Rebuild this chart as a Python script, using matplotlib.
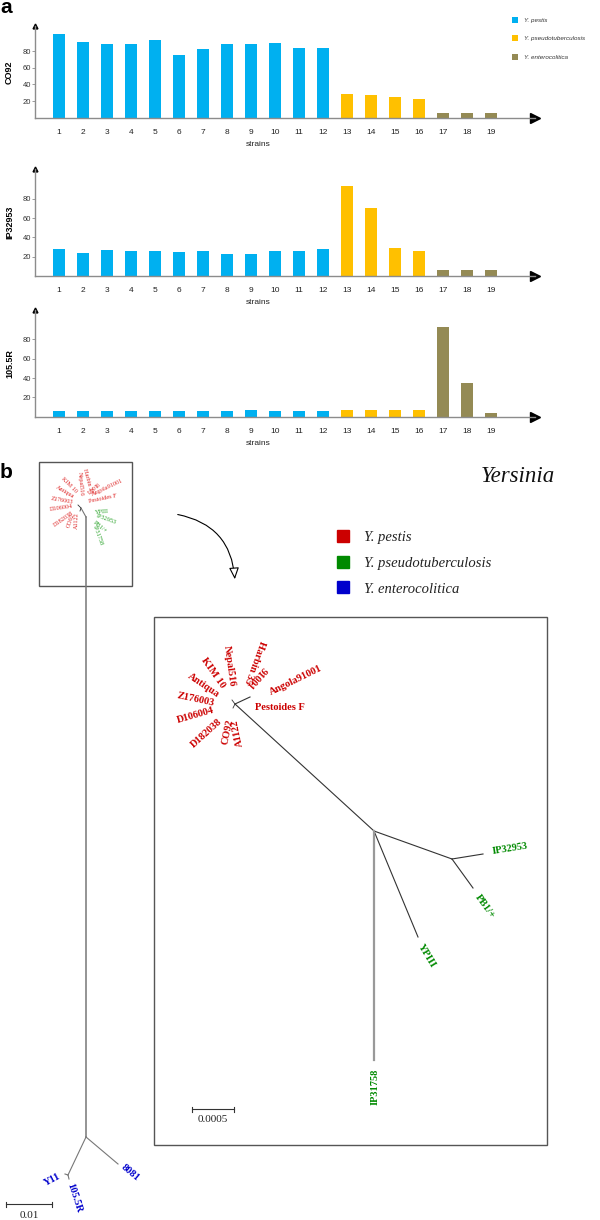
import matplotlib.pyplot as plt
from matplotlib.patches import Rectangle
from matplotlib.lines import Line2D

plt.rcParams['font.family'] = ['Liberation Sans', 'DejaVu Sans']
SERIF = ['Liberation Serif', 'DejaVu Serif']

# ---- panel a data ----
strains = list(range(1, 20))
species = ['Y. pestis', 'Y. pseudotuberculosis', 'Y. enterocolitica']
group_of = [0] * 12 + [1] * 4 + [2] * 3
bar_colors = ['#00b0f0', '#ffc000', '#948a54']

co92 = [101, 91, 88, 89, 93, 75, 82, 89, 88, 90, 84, 84, 28, 27.5, 25, 22, 5.5, 5.5, 5.5]
ip32953 = [28, 24, 27, 26, 26, 24.5, 25.5, 23, 22.5, 26, 26, 28, 93, 70.5, 28.5, 25.5, 6, 6, 6]
r1055 = [5.5, 5.5, 5.5, 5.5, 5.5, 5.5, 5.5, 5.5, 6.5, 5.5, 5.5, 5.5, 6.5, 6.5, 6.5, 6.5, 93, 34.5, 4]
probes = ['CO92', 'IP32953', '105.5R']
probe_values = [co92, ip32953, r1055]

# ---- panel b data (tree layout, drawing units) ----
outer_nodes = {'top': (86, 517), 'pest': (81, 508), 'ent': (86, 1137),
               '8081': (118, 1164), 'ynode': (68, 1175), 'Y11': (65, 1174), '105.5R': (69, 1179)}
outer_edges = [('top', 'pest'), ('top', 'ent'), ('ent', '8081'), ('ent', 'ynode'),
               ('ynode', 'Y11'), ('ynode', '105.5R')]
inner_nodes = {'pestis': (235, 704), 'pf': (250, 697), 'root': (374, 831), 'psa': (452, 859),
               'IP32953': (483, 854), 'PB1/+': (473, 888), 'YPIII': (418, 937), 'IP31758': (374, 1060)}
inner_edges = [('pestis', 'pf'), ('pestis', 'root'), ('root', 'psa'), ('psa', 'IP32953'),
               ('psa', 'PB1/+'), ('root', 'YPIII'), ('root', 'IP31758')]

pestis_big = [('Harbin 35', 255, 662, -110), ('Nepal516', 229, 666, -82), ('91001', 256, 677, -132),
              ('KIM 10', 213, 673, -55), ('Antiqua', 203, 685, -34), ('Z176003', 196, 700, -12),
              ('D106004', 196, 715, 16), ('D182038', 207, 733, 42), ('CO92', 228, 732, 78),
              ('A1122', 238, 733, 102), ('Angola91001', 296, 680, 26), ('Pestoides F', 280, 708, 0)]
pseudo_big = [('IP32953', 510, 849, 9), ('PB1/+', 485, 907, -54), ('YPIII', 427, 956, -59),
              ('IP31758', 375, 1087, 90)]
entero = [('8081', 130, 1173, -40), ('Y11', 52, 1180, 28), ('105.5R', 74, 1198, -72)]

pestis_small = [('Harbin 35', 88, 481, -75), ('Nepal516', 80.5, 484, -85), ('91001', 92, 487, -140),
                ('Angola91001', 107, 487, 25), ('Pestoides F', 103, 499, 12), ('KIM 10', 69, 485, -45),
                ('Antiqua', 65, 492, -30), ('Z176003', 62, 500, -10), ('D106004', 61, 508, 8),
                ('D182038', 63, 519, 35), ('CO92', 71, 520, 70), ('A1122', 77, 521, 88)]
pseudo_small = [('YPIII', 102, 512, 5), ('IP32953', 106, 519, -20), ('PB1/+', 100, 527, -40),
                ('IP31758', 98, 535, -70)]

tree_species = ['Y. pestis', 'Y. pseudotuberculosis', 'Y. enterocolitica']
tree_colors = ['#cc0000', '#008a00', '#0000cc']
outer_px_per_unit = 46 / 0.01
inner_px_per_unit = 42 / 0.0005

W, H = 600, 1220
fig = plt.figure(figsize=(W / 100, H / 100), dpi=100)

# baseline px, top px, px per unit
frames = [(117.7, 26, 0.833), (276, 169, 0.965), (416.7, 310, 0.967)]
for i, (name, vals, (base, top, scale)) in enumerate(zip(probes, probe_values, frames)):
    ax = fig.add_axes([35 / W, 1 - base / H, 500 / W, (base - top) / H])
    for g in range(3):
        xs = [s for s, gg in zip(strains, group_of) if gg == g]
        ys = [v for v, gg in zip(vals, group_of) if gg == g]
        ax.bar(xs, ys, width=0.5, color=bar_colors[g], label=species[g])
    ax.set_xlim(0.02, 20.83)
    ax.set_ylim(0, (base - top) / scale)
    for s in ['top', 'right']:
        ax.spines[s].set_visible(False)
    for s in ['left', 'bottom']:
        ax.spines[s].set_color('#8c8c8c')
        ax.spines[s].set_linewidth(1)
    ax.plot(1, 0, '>', color='black', ms=6.5, transform=ax.get_yaxis_transform(), clip_on=False)
    ax.plot(0, 1, '^', color='black', ms=3.5, transform=ax.get_xaxis_transform(), clip_on=False)
    ax.set_yticks([20, 40, 60, 80])
    ax.tick_params(axis='y', length=2, width=0.6, color='#8c8c8c', labelsize=5.5, pad=1,
                   labelcolor='#333333')
    ax.set_xticks(strains)
    ax.tick_params(axis='x', length=0, labelsize=6, pad=8, labelcolor='#222222')
    ax.set_ylabel(name, fontsize=6.5, fontweight='bold')
    ax.yaxis.set_label_coords(-0.042, 0.5)
    # "strains" sits left of the axis centre, ~27 px under the baseline
    ax.text(9.3, -27 / ((base - top)), 'strains', fontsize=6,
            transform=ax.get_xaxis_transform(), ha='center', va='center', color='#222222')
    ax.patch.set_alpha(0)
    if i == 0:
        leg = ax.legend(loc='upper left', bbox_to_anchor=(506 / W, 1 - 11 / H),
                        bbox_transform=fig.transFigure, frameon=False, fontsize=4.5,
                        handlelength=1.0, handleheight=1.1, handletextpad=0.9, labelspacing=2.0)
        for t in leg.get_texts():
            t.set_fontstyle('italic')
            t.set_color('#333333')

# ---- panel b ----
axb = fig.add_axes([0, 0, 1, 1])
axb.set_xlim(0, W)
axb.set_ylim(H, 0)
axb.axis('off')
axb.patch.set_alpha(0)

fig.text(6 / W, 1 - 13 / H, 'a', fontsize=15, fontweight='bold', ha='center', va='baseline')
fig.text(6 / W, 1 - 478 / H, 'b', fontsize=15, fontweight='bold', ha='center', va='baseline')

axb.add_patch(Rectangle((39, 462), 93, 124, fill=False, ec='#555555', lw=1))
axb.add_patch(Rectangle((154, 617), 393, 528, fill=False, ec='#555555', lw=1))

for a, b in outer_edges:
    (x0, y0), (x1, y1) = outer_nodes[a], outer_nodes[b]
    axb.plot([x0, x1], [y0, y1], color='#777777', lw=1.1 if a == 'top' and b == 'ent' else 0.8)
for a, b in inner_edges:
    (x0, y0), (x1, y1) = inner_nodes[a], inner_nodes[b]
    axb.plot([x0, x1], [y0, y1], color='#999999' if b == 'IP31758' else '#333333',
             lw=1.6 if b == 'IP31758' else 0.8)
# tiny fork at the pestis cluster
px, py = inner_nodes['pestis']
axb.plot([px - 3, px, px - 2], [py - 4, py, py + 4], color='#333333', lw=0.6)
sx, sy = outer_nodes['pest']
axb.plot([sx - 3, sx, sx - 1], [sy - 3, sy, sy + 3], color='#333333', lw=0.6)

for name, x, y, r in pestis_big:
    axb.text(x, y, name, rotation=r, ha='center', va='center', fontsize=7.5,
             fontweight='bold', color=tree_colors[0], family=SERIF)
for name, x, y, r in pseudo_big:
    axb.text(x, y, name, rotation=r, ha='center', va='center', fontsize=7.5,
             fontweight='bold', color=tree_colors[1], family=SERIF)
for name, x, y, r in entero:
    axb.text(x, y, name, rotation=r, ha='center', va='center', fontsize=7.5,
             fontweight='bold', color=tree_colors[2], family=SERIF)
for name, x, y, r in pestis_small:
    axb.text(x, y, name, rotation=r, ha='center', va='center', fontsize=4.5,
             color='#dd2222', family=SERIF)
for name, x, y, r in pseudo_small:
    axb.text(x, y, name, rotation=r, ha='center', va='center', fontsize=4.5,
             color='#22a022', family=SERIF)

# scale bars
for x0, y0, dist, pxu in [(6, 1204, 0.01, outer_px_per_unit), (192, 1109, 0.0005, inner_px_per_unit)]:
    x1 = x0 + dist * pxu
    axb.plot([x0, x1], [y0, y0], color='#333333', lw=0.8)
    axb.plot([x0, x0], [y0 - 2.5, y0 + 2.5], color='#333333', lw=0.8)
    axb.plot([x1, x1], [y0 - 2.5, y0 + 2.5], color='#333333', lw=0.8)
    axb.text((x0 + x1) / 2, y0 + 11, f'{dist:.4f}'.rstrip('0') if dist < 0.01 else f'{dist:g}',
             ha='center', va='center', fontsize=8, family=SERIF, color='#222222')

axb.annotate('', xy=(235, 582), xytext=(175, 514),
             arrowprops=dict(arrowstyle='-|>,head_length=0.7,head_width=0.3', fc='white',
                             ec='black', lw=0.8, connectionstyle='arc3,rad=-0.4'))

axb.text(518, 477, 'Yersinia', fontsize=16.5, style='italic', family=SERIF,
         ha='center', va='center', color='#111111')

handles = [Line2D([], [], ls='none', marker='s', ms=8.5, color=c) for c in tree_colors]
legb = axb.legend(handles, tree_species, loc='upper left', bbox_to_anchor=(323 / W, 1 - 518 / H),
                  bbox_transform=fig.transFigure, frameon=False, handlelength=1.0,
                  handletextpad=0.9, labelspacing=0.85, prop={'family': SERIF, 'size': 10.5,
                                                             'style': 'italic'})
for t in legb.get_texts():
    t.set_color('#222222')

fig.savefig('out.png', dpi=100)
